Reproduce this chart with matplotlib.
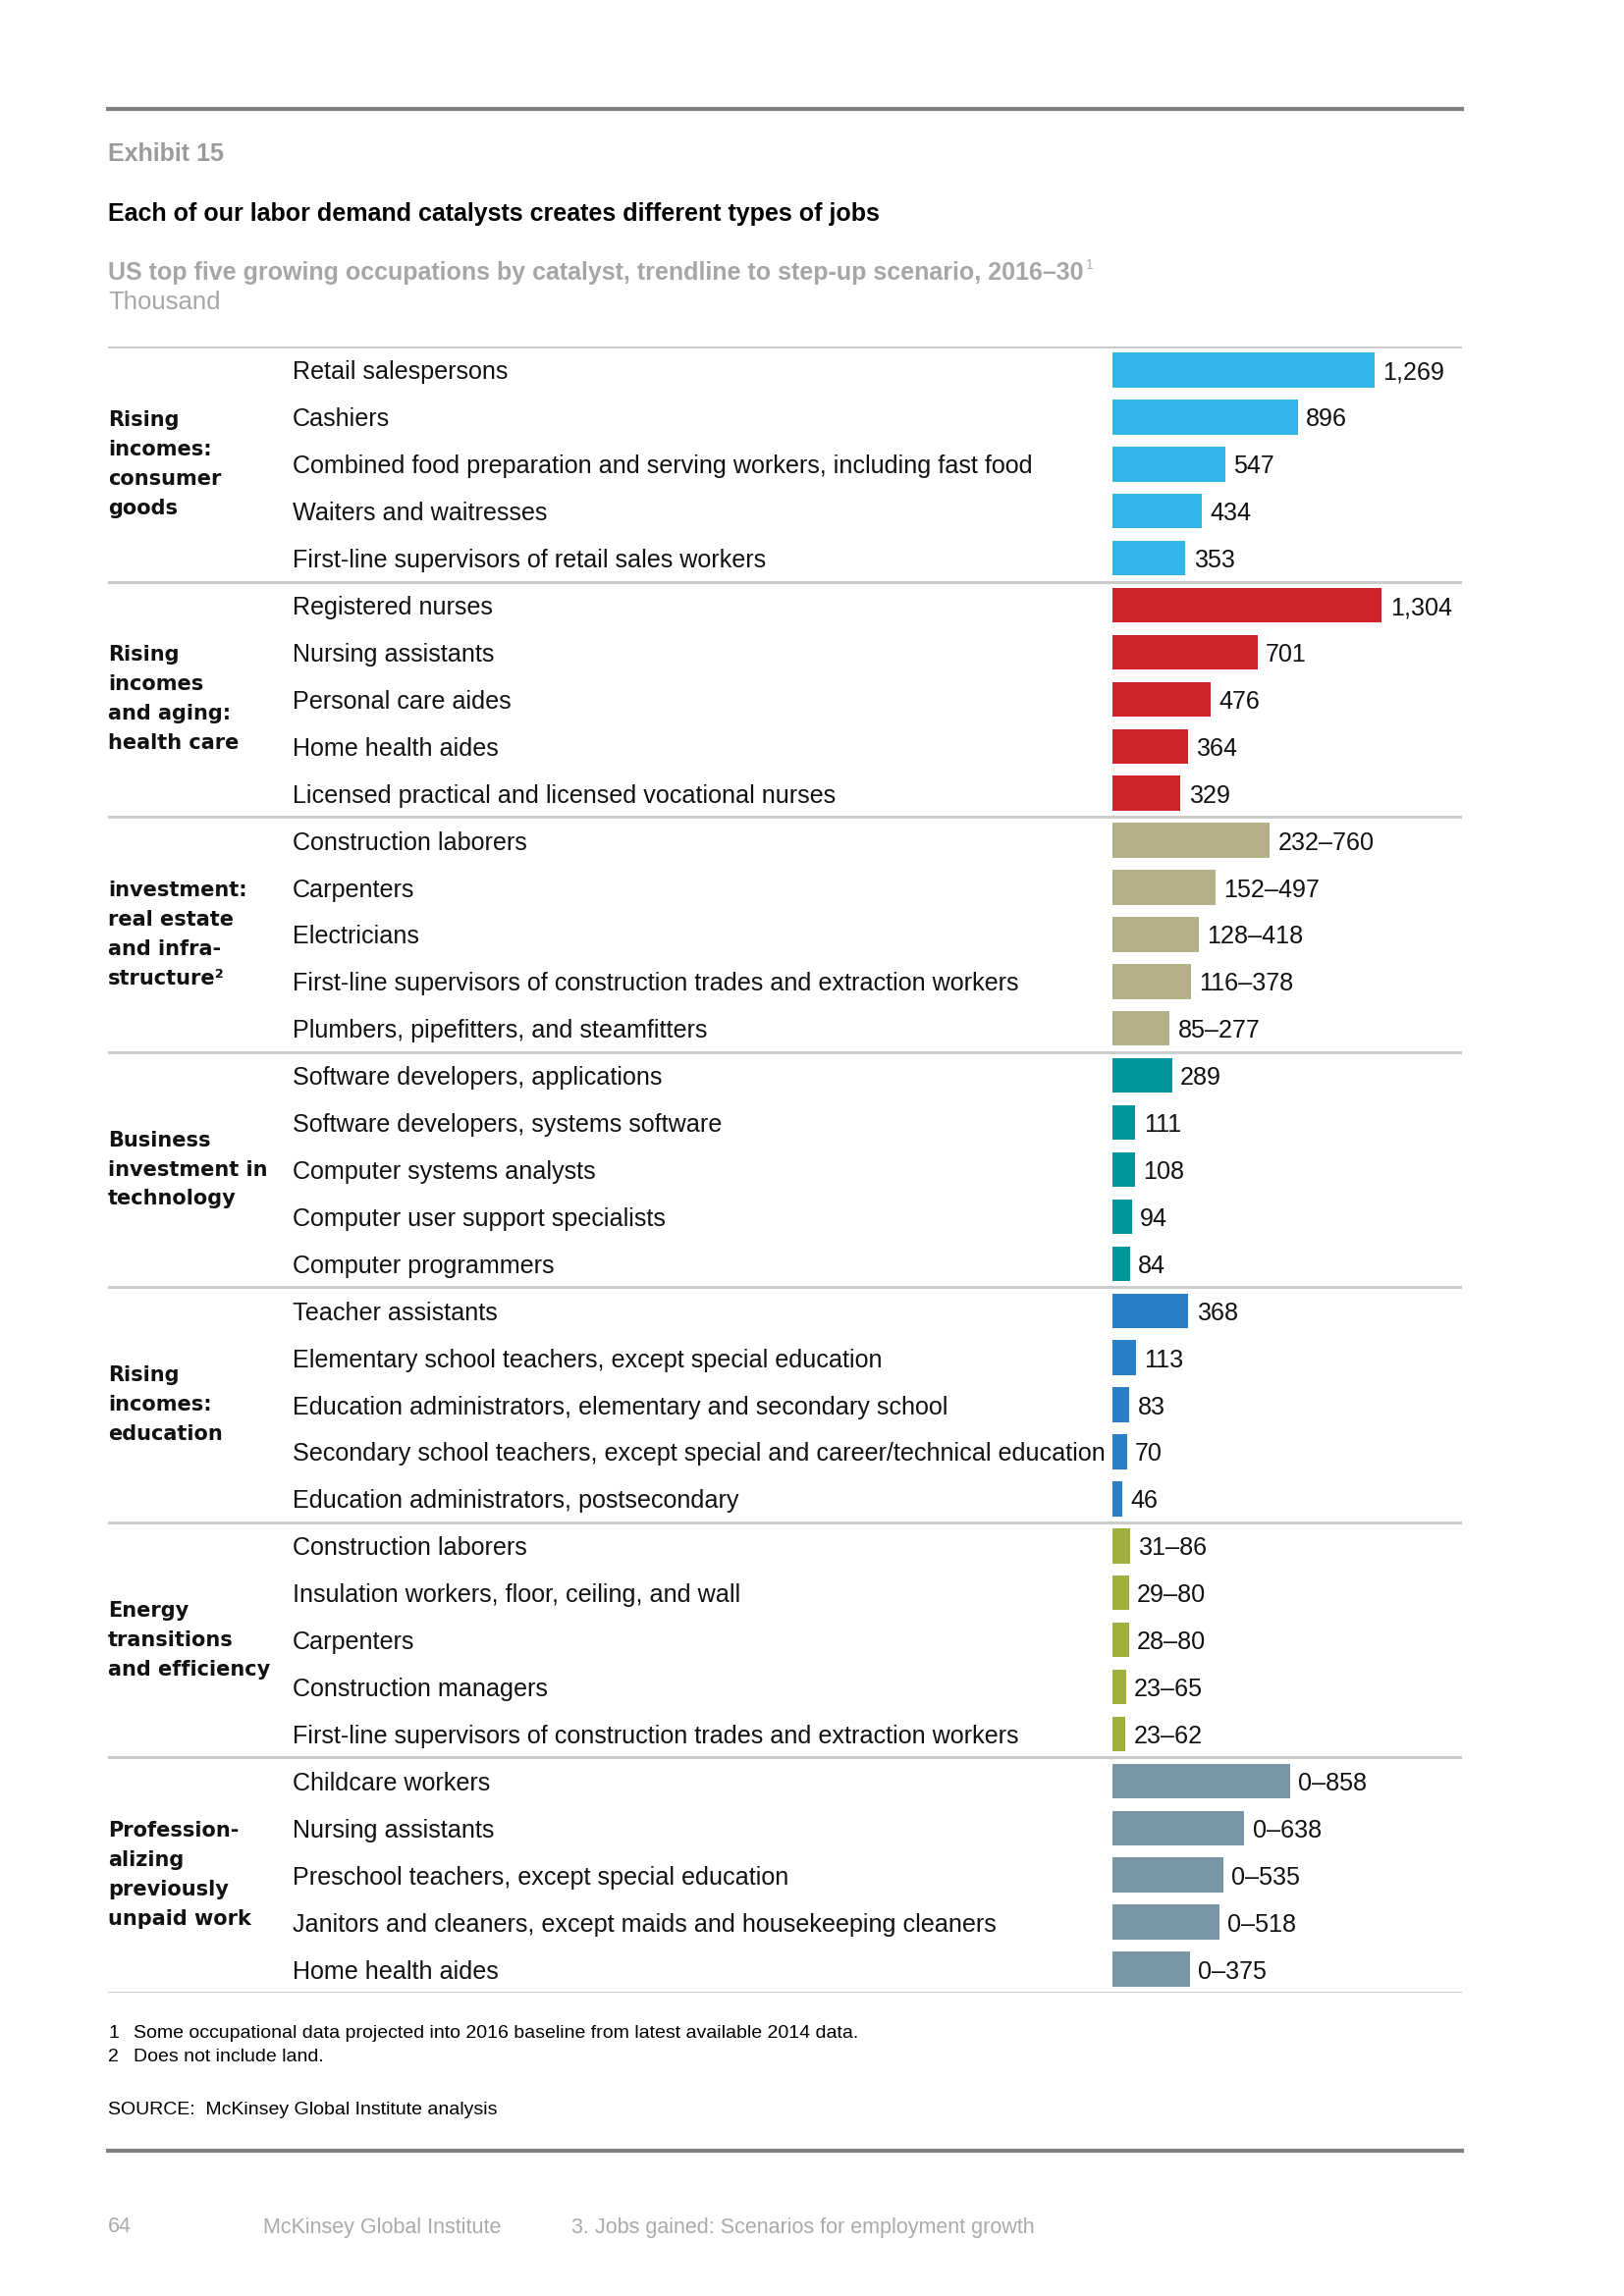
import matplotlib
matplotlib.use("Agg")
import matplotlib.pyplot as plt
from matplotlib.lines import Line2D
from matplotlib.transforms import blended_transform_factory

# ---- data (thousand jobs, trendline to step-up scenario, 2016-30) ----
group_names = [
    "Rising\nincomes:\nconsumer\ngoods",
    "Rising\nincomes\nand aging:\nhealth care",
    "investment:\nreal estate\nand infra-\nstructure\u00b2",
    "Business\ninvestment in\ntechnology",
    "Rising\nincomes:\neducation",
    "Energy\ntransitions\nand efficiency",
    "Profession-\nalizing\npreviously\nunpaid work",
]
group_colors = ["#33B5E8", "#CC2229", "#B3B08A", "#00979C",
                "#2A7FC6", "#9FB03C", "#7896A6"]

consumer_jobs = ["Retail salespersons", "Cashiers",
                 "Combined food preparation and serving workers, including fast food",
                 "Waiters and waitresses", "First-line supervisors of retail sales workers"]
consumer_vals = [1269, 896, 547, 434, 353]

health_jobs = ["Registered nurses", "Nursing assistants", "Personal care aides",
               "Home health aides", "Licensed practical and licensed vocational nurses"]
health_vals = [1304, 701, 476, 364, 329]

infra_jobs = ["Construction laborers", "Carpenters", "Electricians",
              "First-line supervisors of construction trades and extraction workers",
              "Plumbers, pipefitters, and steamfitters"]
infra_low = [232, 152, 128, 116, 85]
infra_high = [760, 497, 418, 378, 277]

tech_jobs = ["Software developers, applications", "Software developers, systems software",
             "Computer systems analysts", "Computer user support specialists",
             "Computer programmers"]
tech_vals = [289, 111, 108, 94, 84]

edu_jobs = ["Teacher assistants", "Elementary school teachers, except special education",
            "Education administrators, elementary and secondary school",
            "Secondary school teachers, except special and career/technical education",
            "Education administrators, postsecondary"]
edu_vals = [368, 113, 83, 70, 46]

energy_jobs = ["Construction laborers", "Insulation workers, floor, ceiling, and wall",
               "Carpenters", "Construction managers",
               "First-line supervisors of construction trades and extraction workers"]
energy_low = [31, 29, 28, 23, 23]
energy_high = [86, 80, 80, 65, 62]

unpaid_jobs = ["Childcare workers", "Nursing assistants",
               "Preschool teachers, except special education",
               "Janitors and cleaners, except maids and housekeeping cleaners",
               "Home health aides"]
unpaid_low = [0, 0, 0, 0, 0]
unpaid_high = [858, 638, 535, 518, 375]

# (jobs, low, high) per group; low None = single value
groups = [
    (consumer_jobs, None, consumer_vals),
    (health_jobs, None, health_vals),
    (infra_jobs, infra_low, infra_high),
    (tech_jobs, None, tech_vals),
    (edu_jobs, None, edu_vals),
    (energy_jobs, energy_low, energy_high),
    (unpaid_jobs, unpaid_low, unpaid_high),
]

# ---- layout helpers (pixel space of the 1654x2339 page) ----
W, H = 1654, 2339
fig = plt.figure(figsize=(W / 100, H / 100), dpi=100)


def fx(px):
    return px / W


def fy(py):
    return 1 - py / H


NARROW = ["Liberation Sans Narrow", "Liberation Sans", "DejaVu Sans"]
ARIAL = ["Liberation Sans", "DejaVu Sans"]
LEFT, RIGHT = 110, 1489
BAR0 = 1133            # pixel where bars start
PX_PER_UNIT = 0.2105   # pixels per thousand jobs
TOP, BOTTOM = 353, 2030

# table axes
ax = fig.add_axes([fx(LEFT), fy(BOTTOM), fx(RIGHT) - fx(LEFT), fy(TOP) - fy(BOTTOM)])
ax.set_xlim(-(BAR0 - LEFT) / PX_PER_UNIT, (RIGHT - BAR0) / PX_PER_UNIT)
n_rows = sum(len(g[0]) for g in groups)
ax.set_ylim(n_rows, 0)
ax.axis("off")
tr = blended_transform_factory(ax.transAxes, ax.transData)
label_x = (298 - LEFT) / (RIGHT - LEFT)

# header
fig.add_artist(Line2D([fx(LEFT), fx(RIGHT)], [fy(111)] * 2, color="#808080", lw=3))
fig.text(fx(LEFT), fy(157), "Exhibit 15", family=NARROW, weight="bold",
         size=18, color="#9a9a9a", va="center")
fig.text(fx(LEFT), fy(218), "Each of our labor demand catalysts creates different types of jobs",
         family=NARROW, weight="bold", size=18, color="black", va="center")
sub = fig.text(fx(LEFT), fy(278),
               "US top five growing occupations by catalyst, trendline to step-up scenario, 2016\u201330",
               family=NARROW, weight="bold", size=18, color="#a6a6a6", va="center")
ax.annotate("1", xy=(1, 0.85), xycoords=sub, xytext=(1.5, 0), textcoords="offset points",
            family=ARIAL, size=10, color="#b0b0b0", va="center", annotation_clip=False)
fig.text(fx(LEFT), fy(308), "Thousand", family=NARROW, size=18.5, color="#a6a6a6", va="center")

row = 0
for gi, (jobs, low, high) in enumerate(groups):
    ys = [row + i + 0.5 for i in range(len(jobs))]
    ax.barh(ys, high, height=0.74, left=0, color=group_colors[gi])
    for i, (job, y) in enumerate(zip(jobs, ys)):
        ax.text(label_x, y, job, transform=tr, family=ARIAL, size=18.1,
                va="center_baseline", color="#111111")
        txt = f"{high[i]:,}" if low is None else f"{low[i]}\u2013{high[i]}"
        ax.annotate(txt, (high[i], y), xytext=(6, 0), textcoords="offset points",
                    family=ARIAL, size=18.1, va="center_baseline", color="#111111")
    ax.text(0, row + len(jobs) / 2, group_names[gi], transform=tr,
            family="DejaVu Sans", weight="bold", size=15, va="center",
            linespacing=1.62, color="#111111")
    row += len(jobs)

for k in range(len(groups) + 1):
    ax.axhline(k * 5, color="#cccccc", lw=2.2)

# footnotes
fig.text(fx(LEFT), fy(2072), "1", family=NARROW, size=14, va="center")
fig.text(fx(136), fy(2072),
         "Some occupational data projected into 2016 baseline from latest available 2014 data.",
         family=NARROW, size=14, va="center")
fig.text(fx(LEFT), fy(2096), "2", family=NARROW, size=14, va="center")
fig.text(fx(136), fy(2096), "Does not include land.", family=NARROW, size=14, va="center")
fig.text(fx(LEFT), fy(2149), "SOURCE:  McKinsey Global Institute analysis",
         family=NARROW, size=14, va="center")

fig.add_artist(Line2D([fx(LEFT), fx(RIGHT)], [fy(2191)] * 2, color="#808080", lw=3))

# page footer
fig.text(fx(LEFT), fy(2269), "64", family=NARROW, size=15.5, color="#aaaaaa", va="center")
fig.text(fx(268), fy(2269), "McKinsey Global Institute", family=NARROW, size=15.5,
         color="#aaaaaa", va="center")
fig.text(fx(582), fy(2269), "3. Jobs gained: Scenarios for employment growth",
         family=NARROW, size=15.5, color="#aaaaaa", va="center")

fig.savefig("out.png", dpi=100, facecolor="white")
